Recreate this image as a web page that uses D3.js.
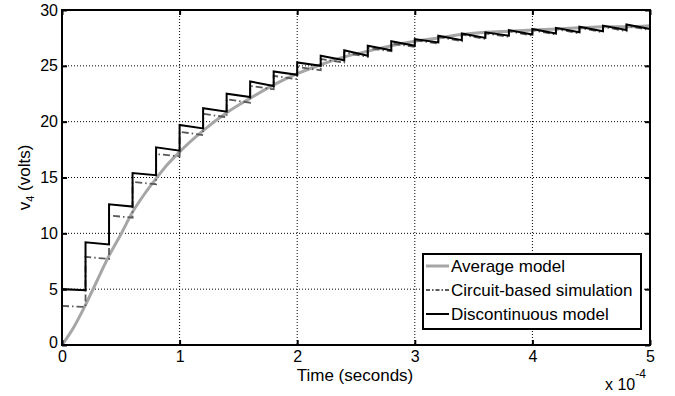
<!DOCTYPE html>
<html>
<head>
<meta charset="utf-8">
<script src="https://cdn.jsdelivr.net/npm/d3@7"></script>
<style>
  body { margin: 0; background: #fff; }
  text { font-family: "Liberation Sans", Arial, sans-serif; fill: #000; }
</style>
</head>
<body>
<div id="chart"></div>
<script>
// time axis in units of 1e-4 s, voltage in volts
const xTicks = [0, 1, 2, 3, 4, 5];
const yTicks = [0, 5, 10, 15, 20, 25, 30];

// average model (smooth)
const avgTime  = [0, 0.1, 0.2, 0.3, 0.4, 0.5, 0.6, 0.7, 0.8, 0.9, 1.0, 1.2, 1.4, 1.6, 1.8, 2.0, 2.2, 2.4, 2.6, 2.8, 3.0, 3.2, 3.4, 3.6, 3.8, 4.0, 4.2, 4.4, 4.6, 4.8, 5.0];
const avgValue = [0, 1.6, 3.6, 5.8, 8.0, 9.9, 11.9, 13.5, 14.9, 16.2, 17.3, 19.2, 20.8, 22.1, 23.3, 24.3, 25.1, 25.8, 26.3, 26.8, 27.2, 27.5, 27.8, 28.0, 28.1, 28.2, 28.3, 28.4, 28.5, 28.5, 28.6];

// switching instants
const switchTimes = [0, 0.2, 0.4, 0.6, 0.8, 1.0, 1.2, 1.4, 1.6, 1.8, 2.0, 2.2, 2.4, 2.6, 2.8, 3.0, 3.2, 3.4, 3.6, 3.8, 4.0, 4.2, 4.4, 4.6, 4.8, 5.0];

// discontinuous model: value right after each switch, and just before the next one
const discStart = [5.0, 9.2, 12.6, 15.4, 17.7, 19.7, 21.2, 22.5, 23.6, 24.5, 25.3, 25.9, 26.4, 26.8, 27.2, 27.4, 27.7, 27.9, 28.0, 28.2, 28.3, 28.4, 28.5, 28.6, 28.7];
const discEnd   = [4.9, 9.0, 12.4, 15.2, 17.4, 19.4, 20.9, 22.2, 23.2, 24.2, 25.0, 25.5, 25.9, 26.4, 26.8, 27.1, 27.3, 27.5, 27.7, 27.8, 27.9, 28.0, 28.1, 28.2, 28.3];

// circuit-based simulation
const circStart = [3.5, 7.9, 11.6, 14.6, 17.1, 19.1, 20.7, 22.0, 23.2, 24.1, 24.9, 25.6, 26.2, 26.6, 27.0, 27.3, 27.6, 27.8, 27.9, 28.1, 28.2, 28.3, 28.4, 28.5, 28.6];
const circEnd   = [3.4, 7.7, 11.4, 14.4, 16.9, 18.8, 20.4, 21.7, 22.9, 23.8, 24.6, 25.3, 25.8, 26.3, 26.7, 27.0, 27.2, 27.4, 27.6, 27.7, 27.8, 27.9, 28.0, 28.1, 28.2];

const legendNames = ["Average model", "Circuit-based simulation", "Discontinuous model"];

const W = 675, H = 396;
const margin = { top: 10, right: 25, bottom: 51, left: 62 };
const width = W - margin.left - margin.right;
const height = H - margin.top - margin.bottom;

const svgRoot = d3.select("#chart").append("svg")
  .attr("width", W).attr("height", H)
  .style("background", "#fff");
const svg = svgRoot.append("g").attr("transform", `translate(${margin.left},${margin.top})`);

const x = d3.scaleLinear().domain([0, 5]).range([0, width]);
const y = d3.scaleLinear().domain([0, 30]).range([height, 0]);

// grid
const grid = svg.append("g").attr("stroke", "#000").attr("stroke-width", 1).attr("stroke-dasharray", "1,2");
grid.selectAll(".gx").data(xTicks.slice(1, -1)).join("line")
  .attr("x1", d => x(d)).attr("x2", d => x(d)).attr("y1", 0).attr("y2", height);
grid.selectAll(".gy").data(yTicks.slice(1, -1)).join("line")
  .attr("x1", 0).attr("x2", width).attr("y1", d => y(d)).attr("y2", d => y(d));

// step paths
function stepPoints(startArr, endArr, fromZero) {
  const pts = fromZero ? [[0, 0]] : [];
  startArr.forEach((v, i) => {
    pts.push([switchTimes[i], v]);
    pts.push([switchTimes[i + 1], endArr[i]]);
  });
  return pts;
}
const line = d3.line().x(d => x(d[0])).y(d => y(d[1]));

svg.append("path")
  .datum(avgTime.map((t, i) => [t, avgValue[i]]))
  .attr("fill", "none").attr("stroke", "#a6a6a6").attr("stroke-width", 3)
  .attr("d", line.curve(d3.curveMonotoneX));

line.curve(d3.curveLinear);
svg.append("path")
  .datum(stepPoints(circStart, circEnd, false))
  .attr("fill", "none").attr("stroke", "#5a5a5a").attr("stroke-width", 1.8)
  .attr("stroke-dasharray", "7,3,1.5,3")
  .attr("d", line);

svg.append("path")
  .datum(stepPoints(discStart, discEnd, true))
  .attr("fill", "none").attr("stroke", "#000").attr("stroke-width", 2)
  .attr("d", line);

// axes (ticks inward, mirrored on top/right)
const xAxis = svg.append("g").attr("transform", `translate(0,${height})`)
  .call(d3.axisBottom(x).tickValues(xTicks).tickFormat(d3.format("d"))
    .tickSizeInner(-5).tickSizeOuter(0).tickPadding(6));
const yAxis = svg.append("g")
  .call(d3.axisLeft(y).tickValues(yTicks).tickSizeInner(-5).tickSizeOuter(0).tickPadding(4));
svg.append("g").call(d3.axisTop(x).tickValues(xTicks).tickSizeInner(-5).tickSizeOuter(0).tickFormat(""));
svg.append("g").attr("transform", `translate(${width},0)`)
  .call(d3.axisRight(y).tickValues(yTicks).tickSizeInner(-5).tickSizeOuter(0).tickFormat(""));
svg.selectAll(".domain").remove();
svg.selectAll(".tick line").attr("stroke", "#000").attr("stroke-width", 2);
[xAxis, yAxis].forEach(a => a.selectAll("text").style("font-size", "16px").attr("fill", "#000"));
yAxis.selectAll(".tick text").filter(d => d === 0).attr("dy", "0.15em");

svg.append("rect")
  .attr("width", width).attr("height", height)
  .attr("fill", "none").attr("stroke", "#000").attr("stroke-width", 2);

// labels
svg.append("text")
  .attr("x", width / 2 - 1).attr("y", height + 36)
  .attr("text-anchor", "middle").style("font-size", "17px")
  .text("Time (seconds)");

const mult = svg.append("text")
  .attr("x", 605 - margin.left).attr("y", 390 - margin.top)
  .style("font-size", "16px");
mult.append("tspan").text("x 10");
mult.append("tspan").attr("dy", -12).style("font-size", "12px").text("-4");

const yl = svg.append("text")
  .attr("transform", `translate(${-32},${height / 2}) rotate(-90)`)
  .attr("text-anchor", "middle").style("font-size", "17px");
yl.append("tspan").text("v");
yl.append("tspan").attr("dy", 4).style("font-size", "11px").text("4");
yl.append("tspan").attr("dy", -4).text(" (volts)");

// legend
const lg = svg.append("g").attr("transform", `translate(${423 - margin.left},${254 - margin.top})`);
lg.append("rect").attr("width", 218).attr("height", 75)
  .attr("fill", "#fff").attr("stroke", "#000").attr("stroke-width", 2);
const lgStyles = [
  { stroke: "#a6a6a6", w: 3, dash: null },
  { stroke: "#5a5a5a", w: 1.8, dash: "4,2,1.5,2" },
  { stroke: "#000", w: 2, dash: null }
];
legendNames.forEach((name, i) => {
  const row = lg.append("g").attr("transform", `translate(0,${12 + i * 24})`);
  row.append("line").attr("x1", 3).attr("x2", 26).attr("y1", 0).attr("y2", 0)
    .attr("stroke", lgStyles[i].stroke).attr("stroke-width", lgStyles[i].w)
    .attr("stroke-dasharray", lgStyles[i].dash);
  row.append("text").attr("x", 28).attr("y", 5.5).style("font-size", "17px").text(name);
});
</script>
</body>
</html>
